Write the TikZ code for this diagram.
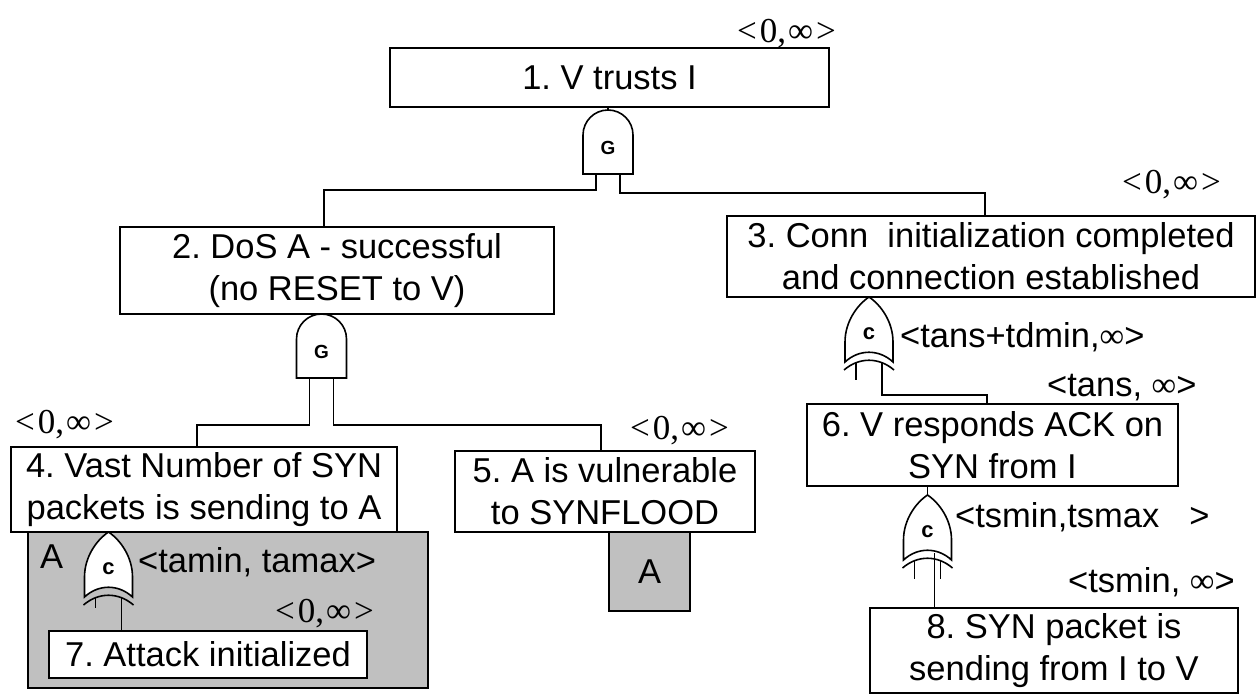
\documentclass[tikz,border=0pt]{standalone}
\usepackage{fontspec}
\setmainfont{Liberation Sans}
\newfontfamily\timesfam{Liberation Serif}
\frenchspacing
\newcommand\boxfont{\fontsize{34.5pt}{42pt}\selectfont}
\newcommand\rngfont{\timesfam\fontsize{35pt}{35pt}\selectfont}
\newcommand\rng{<\kern3pt0,\kern2pt∞\kern3pt>}
\definecolor{graybox}{RGB}{192,192,192}
\begin{document}
\begin{tikzpicture}[x=1pt,y=-1pt,
  box/.style={draw=black, line width=1.6pt, fill=white, inner sep=0pt, align=center, font=\boxfont},
  shade/.style={draw=black, line width=1.6pt, fill=graybox, inner sep=0pt, font=\boxfont},
  wire/.style={line width=1.6pt},
  gateline/.style={line width=1.6pt, fill=white},
  lbl/.style={inner sep=0pt, anchor=base west, font=\boxfont},
  rnglbl/.style={inner sep=0pt, anchor=base west, font=\rngfont},
  gatelbl/.style={inner sep=0pt, font=\bfseries\fontsize{19pt}{19pt}\selectfont},
  andgate/.pic={
    \draw[gateline] (-25,64) -- (-25,25) arc[start angle=180,end angle=0,radius=25pt] -- (25,64) -- cycle;
    \node[gatelbl] (-lbl) at (0,38) {G};
    \coordinate (-top) at (0,0);
    \coordinate (-bl) at (-12,64);
    \coordinate (-br) at (12,64);
  },
  orgate/.pic={
    \draw[gateline] (0,0) .. controls (-12,8) and (-24,25) .. (-24,45) -- (-24,65)
      .. controls (-10,52) and (10,52) .. (24,65) -- (24,45)
      .. controls (24,25) and (12,8) .. (0,0) -- cycle;
    \draw[line width=1.6pt] (-25,73) .. controls (-10,60) and (10,60) .. (25,73);
    \node[gatelbl, font=\bfseries\fontsize{22pt}{22pt}\selectfont] (-lbl) at (0,37) {c};
    \coordinate (-top) at (0,0);
    \coordinate (-bl) at (-13,66);
    \coordinate (-br) at (13,66);
    \coordinate (-c) at (7,58);
  }]
\useasboundingbox (0,0) rectangle (1257,696);

% shaded sub-trees
\node[shade, minimum width=400pt, minimum height=156pt] (shA) at (228,610) {};
\node[shade, minimum width=81pt, minimum height=79pt] (shB) at (649.5,571.5) {A};

% event boxes
\node[box, minimum width=439pt, minimum height=59pt] (b1) at (609.5,77.5) {1. V trusts I};
\node[box, minimum width=434pt, minimum height=87pt] (b2) at (337,270.5) {2. DoS A - successful\\(no RESET to V)};
\node[box, minimum width=528pt, minimum height=81pt] (b3) at (991,256.5) {3. Conn~\ initialization completed\\and connection established};
\node[box, minimum width=386pt, minimum height=85pt] (b4) at (204,489.5) {4. Vast Number of SYN\\packets is sending to A};
\node[box, minimum width=300pt, minimum height=81pt] (b5) at (605,491.5) {5. A is vulnerable\\to SYNFLOOD};
\node[box, minimum width=371pt, minimum height=82pt] (b6) at (992.5,445) {6. V responds ACK on\\SYN from I};
\node[box, minimum width=318pt, minimum height=47pt] (b7) at (208,654.5) {7. Attack initialized};
\node[box, minimum width=368pt, minimum height=85pt] (b8) at (1054,650.5) {8. SYN packet is\\sending from I to V};

% gates
\pic (g1) at (608,110) {andgate};
\pic (g2) at (321.5,314) {andgate};
\pic (g3) at (869,297) {orgate};
\pic (g4) at (108.5,532) {orgate};
\pic (g5) at (927.5,495) {orgate};

% connectors
\draw[wire] (g1-top) -- (g1-top |- b1.south);
\draw[wire] (g1-bl) -- ++(0,16) -| ([xshift=-13pt]b2.north);
\draw[wire] (g1-br) -- ++(0,19) -| ([xshift=-6pt]b3.north);
\draw[wire] (g2-bl) -- ++(0,47) -| ([xshift=-7pt]b4.north);
\draw[wire] (g2-br) -- ++(0,47) -| ([xshift=-4pt]b5.north);
\draw[wire] (g3-bl) -- ++(0,17);
\draw[wire] (g3-br) -- ++(0,32) -| ([xshift=-5.5pt]b6.north);
\draw[wire] (g4-bl) -- ++(0,10);
\draw[wire] (g4-br) -- (g4-br |- b7.north);
\draw[wire] (g5-top) -- (g5-top |- b6.south);
\draw[wire] (g5-bl) -- ++(0,18);
\draw[wire] (g5-br) -- ++(0,18);
\draw[wire] (g5-c) -- (g5-c |- b8.north);

% time windows
\node[rnglbl] (r1) at (737,42) {\rng};
\node[rnglbl] (r3) at (1122,193) {\rng};
\node[rnglbl] (r4) at (15,433) {\rng};
\node[rnglbl] (r5) at (630,439) {\rng};
\node[rnglbl] (r7) at (275,622) {\rng};
\node[lbl] (tA) at (40,568) {A};
\node[lbl] (t4) at (138,572) {<tamin, tamax>};
\node[lbl] (t3) at (900,347) {<tans+tdmin,{\timesfam ∞}>};
\node[lbl] (t6) at (1047,396) {<tans, {\timesfam ∞}>};
\node[lbl] (t8a) at (955,527) {<tsmin,tsmax\hspace{30pt}>};
\node[lbl] (t8b) at (1068,592) {<tsmin, {\timesfam ∞}>};
\end{tikzpicture}
\end{document}
